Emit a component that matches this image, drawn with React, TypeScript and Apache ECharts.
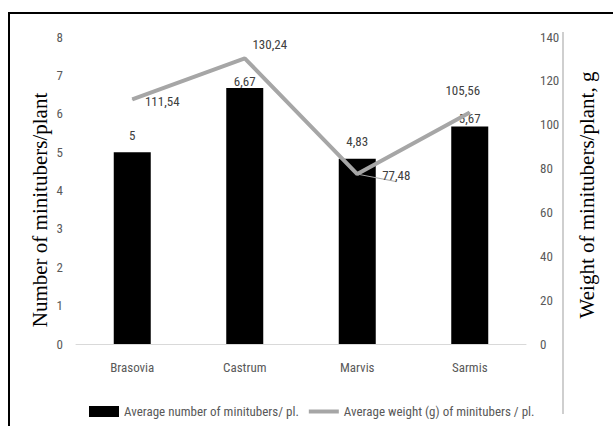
import React, { useEffect, useRef } from "react";
import * as echarts from "echarts";

const categories = ["Brasovia", "Castrum", "Marvis", "Sarmis"];
const numberValues = [5, 6.67, 4.83, 5.67];
const weightValues = [111.54, 130.24, 77.48, 105.56];
const leftTicks = { min: 0, max: 8, interval: 1 };
const rightTicks = { min: 0, max: 140, interval: 20 };
const barLabelDistance = [10, 0, 11, 1];
const lineLabelOffsets = [[30, 2], [25, -14], [39, 1], [-7, -22]];
const legendNames = ["Average number of minitubers/ pl.", "Average weight (g) of minitubers / pl."];
const leftTitle = "Number of minitubers/plant";
const rightTitle = "Weight of minitubers/plant, g";

const FONT = '"Liberation Sans Narrow", "Roboto Condensed", Roboto, sans-serif';
const fmt = (v: number) => String(v).replace(".", ",");

export default function App() {
  const ref = useRef<HTMLDivElement>(null);
  useEffect(() => {
    if (!ref.current) return;
    const chart = echarts.init(ref.current, undefined, { renderer: "svg" });
    chart.setOption({
      animation: false,
      backgroundColor: "#ffffff",
      textStyle: { fontFamily: FONT },
      grid: { left: 76, right: 87, top: 37, bottom: 82, containLabel: false },
      legend: {
        left: 84,
        top: 400,
        itemWidth: 30,
        itemHeight: 11,
        itemGap: 10,
        textStyle: { color: "#595959", fontSize: 13, fontFamily: FONT },
        data: [
          { name: legendNames[0], icon: "rect" },
          { name: legendNames[1], icon: "path://M0,0 H30 V4 H0 Z" },
        ],
      },
      xAxis: {
        type: "category",
        data: categories,
        boundaryGap: true,
        axisLine: { lineStyle: { color: "#d9d9d9", width: 1 } },
        axisTick: { show: false },
        axisLabel: { color: "#595959", fontSize: 13, margin: 17, fontFamily: FONT },
      },
      yAxis: [
        {
          type: "value",
          ...leftTicks,
          axisLine: { show: false },
          axisTick: { show: false },
          splitLine: { show: false },
          axisLabel: { color: "#595959", fontSize: 13, margin: 13, fontFamily: FONT },
        },
        {
          type: "value",
          position: "right",
          ...rightTicks,
          axisLine: { show: false },
          axisTick: { show: false },
          splitLine: { show: false },
          axisLabel: { color: "#595959", fontSize: 13, margin: 14, fontFamily: FONT },
        },
      ],
      series: [
        {
          name: legendNames[0],
          type: "bar",
          yAxisIndex: 0,
          barWidth: 37,
          itemStyle: { color: "#000000" },
          data: numberValues.map((v, i) => ({
            value: v,
            label: { distance: barLabelDistance[i] },
          })),
          label: {
            show: true,
            position: "top",
            color: "#404040",
            fontSize: 13,
            fontFamily: FONT,
            formatter: (p: any) => fmt(p.value),
          },
          z: 2,
        },
        {
          name: legendNames[1],
          type: "line",
          yAxisIndex: 1,
          symbol: "circle",
          symbolSize: 1,
          lineStyle: { color: "#a6a6a6", width: 4 },
          itemStyle: { color: "#a6a6a6" },
          data: weightValues.map((v, i) => ({
            value: v,
            label: { offset: lineLabelOffsets[i] },
            labelLine: i === 2 ? { show: true, lineStyle: { color: "#a6a6a6", width: 1 } } : { show: false },
          })),
          label: {
            show: true,
            position: "inside",
            color: "#404040",
            fontSize: 13,
            fontFamily: FONT,
            formatter: (p: any) => fmt(p.value),
          },
          z: 3,
        },
      ],
      graphic: [
        {
          type: "rect",
          shape: { x: 9, y: 13, width: 700, height: 500 },
          style: { fill: "none", stroke: "#000000", lineWidth: 2 },
          silent: true,
        },
        {
          type: "line",
          shape: { x1: 563, y1: 32, x2: 563, y2: 414 },
          style: { stroke: "#cfcfcf", lineWidth: 2 },
          silent: true,
        },
        {
          type: "text",
          x: 40,
          y: 210,
          rotation: Math.PI / 2,
          style: {
            text: leftTitle,
            font: '21px "Liberation Serif", "Times New Roman", serif',
            fill: "#000000",
            align: "center",
            verticalAlign: "middle",
          },
        },
        {
          type: "text",
          x: 587,
          y: 195,
          rotation: Math.PI / 2,
          style: {
            text: rightTitle,
            font: '21px "Liberation Serif", "Times New Roman", serif',
            fill: "#000000",
            align: "center",
            verticalAlign: "middle",
          },
        },
      ],
    });
    return () => chart.dispose();
  }, []);
  return (
    <div
      ref={ref}
      style={{ position: "absolute", left: 0, top: 0, width: 613, height: 426 }}
    />
  );
}
